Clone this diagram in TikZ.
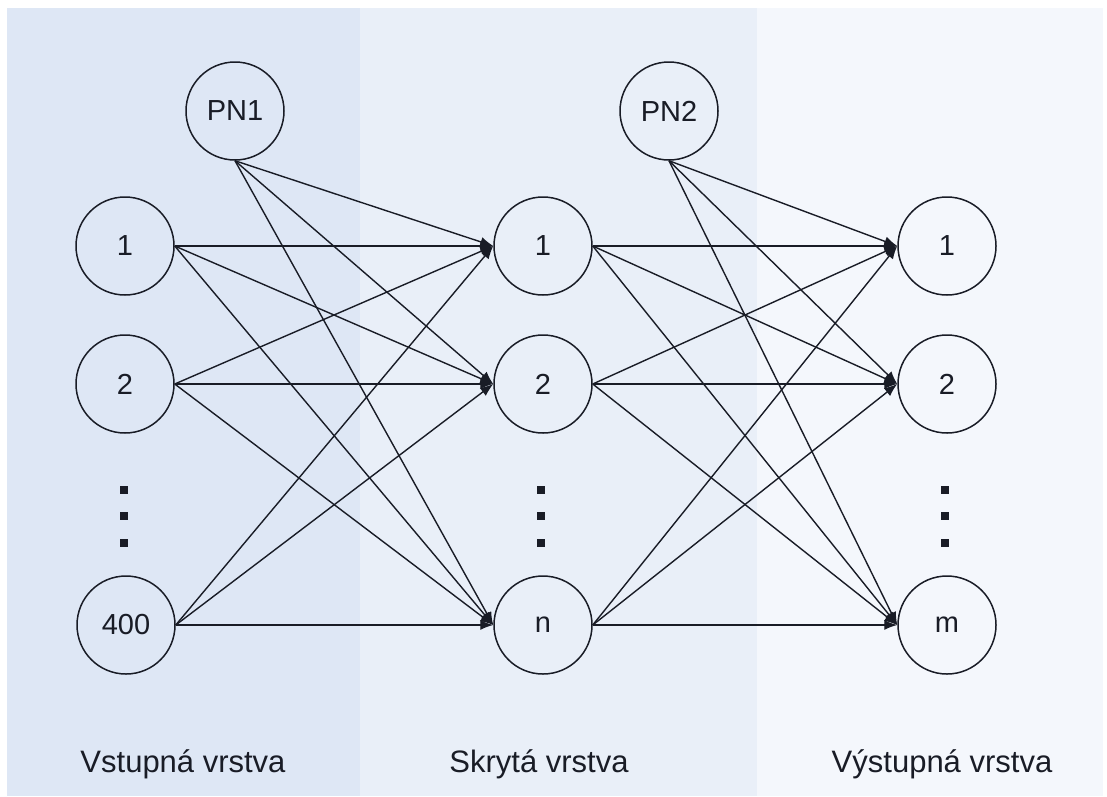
\documentclass[tikz,border=0pt]{standalone}
\usepackage{fontspec}
\setmainfont{Liberation Sans}
\usetikzlibrary{arrows.meta}
\definecolor{bgleft}{RGB}{222,231,245}
\definecolor{bgmid}{RGB}{233,239,248}
\definecolor{bgright}{RGB}{244,247,252}
\definecolor{ink}{RGB}{25,28,38}
\tikzset{
  neuron/.style={circle, draw=ink, line width=1.5pt, minimum size=98pt, inner sep=0pt,
    font=\fontsize{29}{34}\selectfont, text=ink},
  conn/.style={draw=ink, line width=1.4pt, -{Latex[length=13pt,width=10pt]}},
  dotsq/.style={fill=ink, minimum size=8pt, inner sep=0pt, draw=none, rectangle},
  layerlabel/.style={font=\fontsize{31}{36}\selectfont, text=ink}
}
\begin{document}
\begin{tikzpicture}[x=1pt,y=-1pt]
\useasboundingbox (0,0) rectangle (1107,796);
\fill[white] (0,0) rectangle (1107,796);
\fill[bgleft] (7,8) rectangle (360,796);
\fill[bgmid] (360,8) rectangle (757,796);
\fill[bgright] (757,8) rectangle (1103,796);

% nodes
\node[neuron] (B1) at (235,111) {PN1};
\node[neuron] (L1) at (125,246) {1};
\node[neuron] (L2) at (125,384) {2};
\node[neuron] (L3) at (126,625) {400};

\node[neuron] (B2) at (669,111) {PN2};
\node[neuron] (H1) at (543,246) {1};
\node[neuron] (H2) at (543,384) {2};
\node[neuron] (H3) at (543,625) {n};

\node[neuron] (O1) at (947,246) {1};
\node[neuron] (O2) at (947,384) {2};
\node[neuron] (O3) at (947,625) {m};

% dots
\foreach \x/\n in {124/a,541/b,945/c}{
  \node[dotsq] (d1\n) at (\x,490) {};
  \node[dotsq] (d2\n) at (\x,516) {};
  \node[dotsq] (d3\n) at (\x,543) {};
}

% connections input -> hidden
\foreach \s in {L1,L2,L3}{
  \foreach \t in {H1,H2,H3}{
    \draw[conn] (\s.east) -- (\t.west);
  }
}
\foreach \t in {H1,H2,H3}{
  \draw[conn] (B1.south) -- (\t.west);
}
% connections hidden -> output
\foreach \s in {H1,H2,H3}{
  \foreach \t in {O1,O2,O3}{
    \draw[conn] (\s.east) -- (\t.west);
  }
}
\foreach \t in {O1,O2,O3}{
  \draw[conn] (B2.south) -- (\t.west);
}

% labels
\node[layerlabel] (lab1) at (183,764) {Vstupná vrstva};
\node[layerlabel] (lab2) at (539,764) {Skrytá vrstva};
\node[layerlabel] (lab3) at (942,764) {Výstupná vrstva};
\end{tikzpicture}
\end{document}
